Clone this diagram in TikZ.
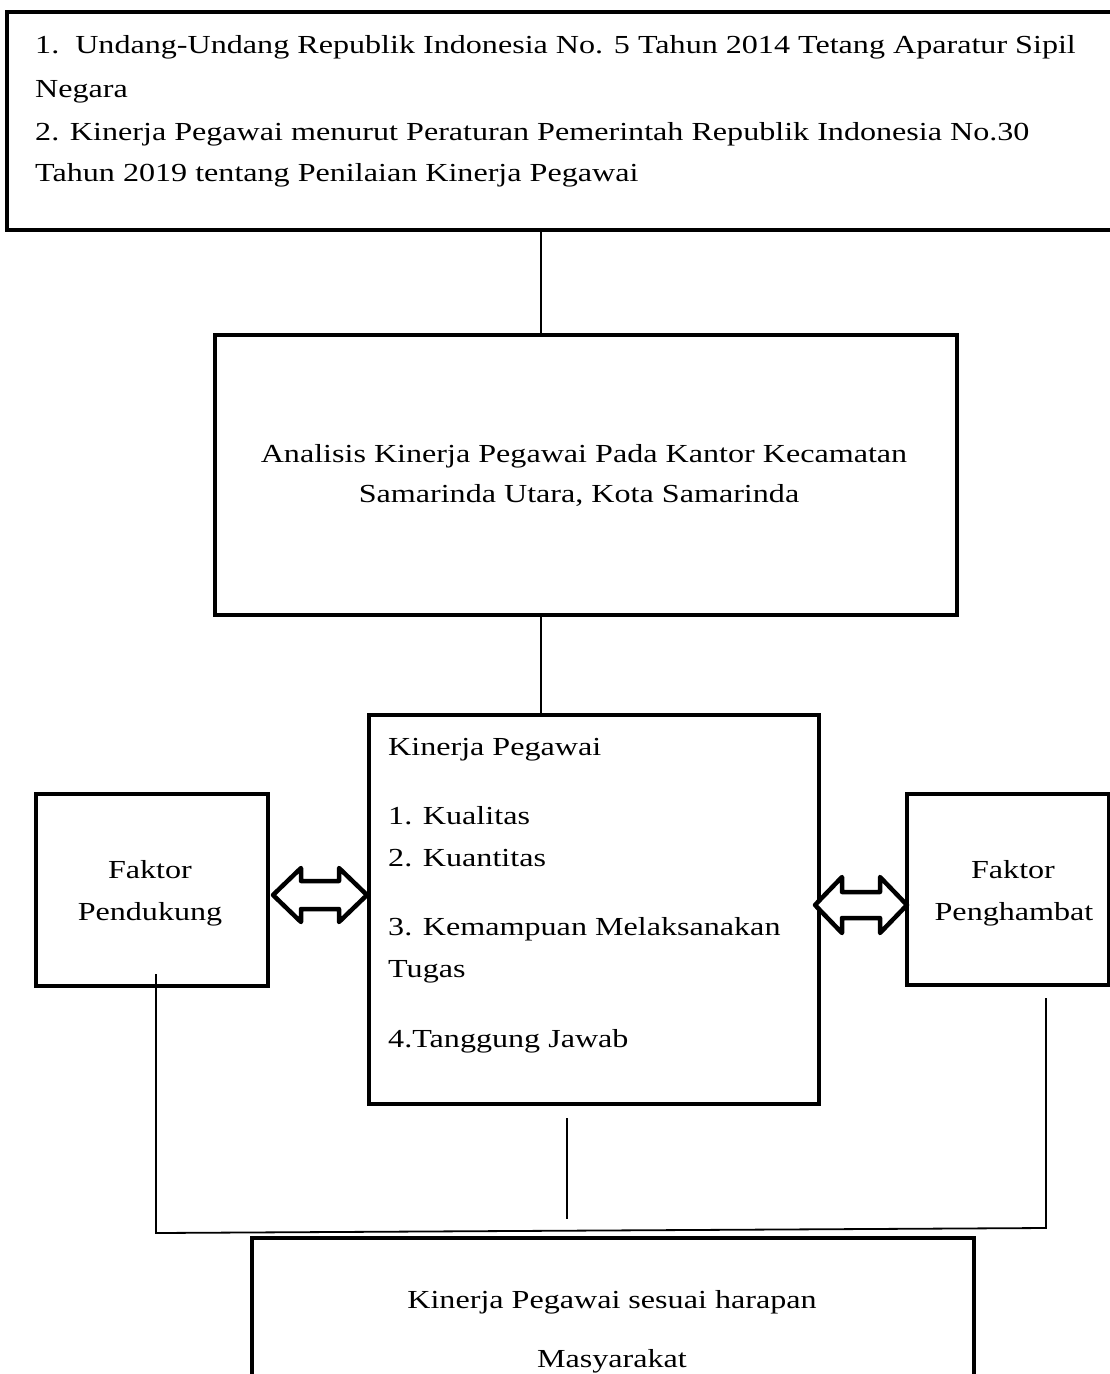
\documentclass[tikz,border=0pt]{standalone}
\usepackage{fontspec}
\setmainfont{Liberation Serif}[FakeStretch=1.235]
\tikzset{
  box/.style={draw, line width=4pt, inner sep=0pt, anchor=north west},
  lbl/.style={font=\fontsize{26}{30}\selectfont, inner sep=0pt, anchor=base west},
  clbl/.style={font=\fontsize{26}{30}\selectfont, inner sep=0pt, anchor=base},
  conn/.style={line width=1.8pt},
  dbl/.style={draw, line width=4.5pt, fill=white, line join=round}
}
\begin{document}
\begin{tikzpicture}[x=1pt,y=-1pt]
\useasboundingbox (0,0) rectangle (1109,1374);
% boxes
\node[box, minimum width=1115pt, minimum height=218pt] (top) at (5,10) {};
\node[box, minimum width=742pt, minimum height=280pt] (analisis) at (213,333) {};
\node[box, minimum width=450pt, minimum height=389pt] (kinerja) at (367,713) {};
\node[box, minimum width=232pt, minimum height=192pt] (pendukung) at (34,792) {};
\node[box, minimum width=202pt, minimum height=191pt] (penghambat) at (905,792) {};
\node[box, minimum width=722pt, minimum height=180pt] (harapan) at (250,1236) {};
% texts
\node[lbl] (t1) at (35,53) {1.~~Undang-Undang Republik Indonesia No. 5 Tahun 2014 Tetang Aparatur Sipil};
\node[lbl] (t2) at (35,97) {Negara};
\node[lbl] (t3) at (35,140) {2. Kinerja Pegawai menurut Peraturan Pemerintah Republik Indonesia No.30};
\node[lbl] (t4) at (35,181) {Tahun 2019 tentang Penilaian Kinerja Pegawai};
\node[clbl] (a1) at (584,462) {Analisis Kinerja Pegawai Pada Kantor Kecamatan};
\node[clbl] (a2) at (579,502) {Samarinda Utara, Kota Samarinda};
\node[lbl] (k0) at (388,755) {Kinerja Pegawai};
\node[lbl] (k1) at (388,824) {1. Kualitas};
\node[lbl] (k2) at (388,866) {2. Kuantitas};
\node[lbl] (k3) at (388,935) {3. Kemampuan Melaksanakan};
\node[lbl] (k4) at (388,977) {Tugas};
\node[lbl] (k5) at (388,1047) {4.Tanggung Jawab};
\node[clbl] (f1) at (150,878) {Faktor};
\node[clbl] (f2) at (150,920) {Pendukung};
\node[clbl] (g1) at (1013,878) {Faktor};
\node[clbl] (g2) at (1014,920) {Penghambat};
\node[clbl] (h1) at (612,1308) {Kinerja Pegawai sesuai harapan};
\node[clbl] (h2) at (612,1367) {Masyarakat};
% connectors
\coordinate (x1) at (541,0);
\draw[conn] (x1 |- top.south) -- (x1 |- analisis.north);
\draw[conn] (x1 |- analisis.south) -- (x1 |- kinerja.north);
\coordinate (vl) at (156,974);
\coordinate (jl) at (156,1233);
\coordinate (jr) at (1046,1228);
\coordinate (vr) at (1046,998);
\draw[conn] (vl) -- (jl) -- (jr) -- (vr);
\coordinate (cm1) at (567,1118);
\coordinate (cm2) at (567,1219);
\draw[conn] (cm1) -- (cm2);
% double arrows
\draw[dbl] (273,895) -- (301,868) -- (301,881) -- (339,881) -- (339,868) -- (367,895)
  -- (339,922) -- (339,909) -- (301,909) -- (301,922) -- cycle;
\draw[dbl] (815,905) -- (842,877) -- (842,892) -- (880,892) -- (880,877) -- (907,905)
  -- (880,933) -- (880,918) -- (842,918) -- (842,933) -- cycle;
\end{tikzpicture}
\end{document}
